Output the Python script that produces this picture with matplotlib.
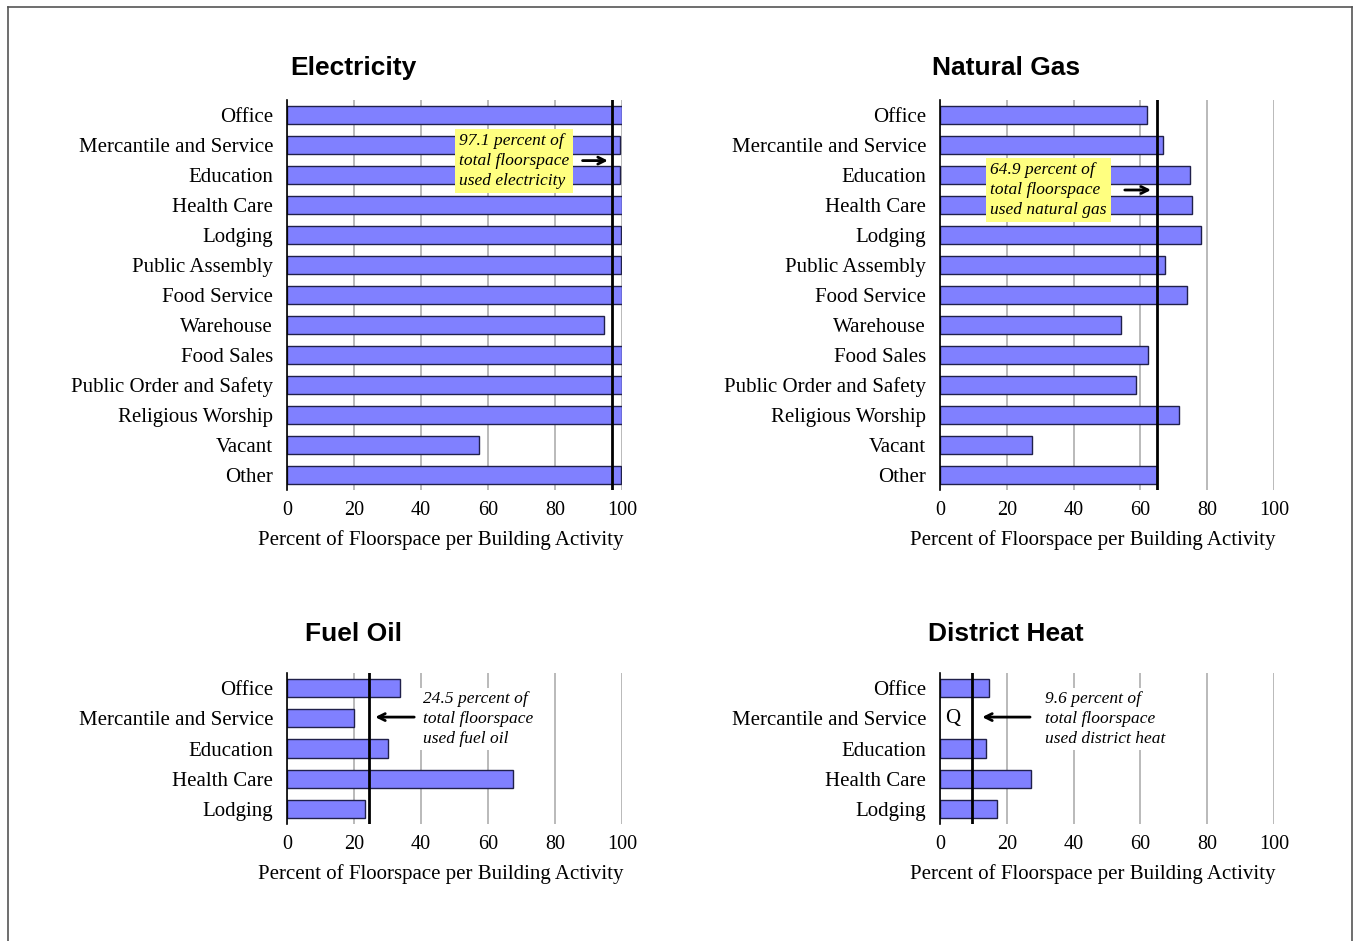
import matplotlib
matplotlib.use("Agg")
import matplotlib.pyplot as plt
from matplotlib.lines import Line2D

# building activities
cats_full = ["Office", "Mercantile and Service", "Education", "Health Care",
             "Lodging", "Public Assembly", "Food Service", "Warehouse",
             "Food Sales", "Public Order and Safety", "Religious Worship",
             "Vacant", "Other"]
cats_short = cats_full[:5]

# percent of floorspace per activity
electricity = [100, 99.4, 99.5, 100, 99.6, 99.6, 100, 94.5, 100, 100, 100, 57.2, 99.8]
natural_gas = [62.1, 66.9, 74.9, 75.4, 78.2, 67.5, 74.0, 54.2, 62.4, 58.7, 71.6, 27.5, 65.0]
fuel_oil = [33.8, 20.0, 30.2, 67.6, 23.4]
district_heat = [14.6, None, 13.9, 27.3, 17.0]   # None -> "Q" (withheld)

totals = {"Electricity": 97.1, "Natural Gas": 64.9, "Fuel Oil": 24.5, "District Heat": 9.6}
notes = {"Electricity": "97.1 percent of\ntotal floorspace\nused electricity",
         "Natural Gas": "64.9 percent of\ntotal floorspace\nused natural gas",
         "Fuel Oil": "24.5 percent of\ntotal floorspace\nused fuel oil",
         "District Heat": "9.6 percent of\ntotal floorspace\nused district heat"}

W, H = 1353, 941
fig = plt.figure(figsize=(W / 100, H / 100), dpi=100)
serif = ["Liberation Serif", "DejaVu Serif"]
sans = ["Liberation Sans", "DejaVu Sans"]


def px_axes(x0, x1, y0, y1):
    return fig.add_axes([x0 / W, 1 - y1 / H, (x1 - x0) / W, (y1 - y0) / H])


def draw(ax, name, cats, vals):
    ys = range(len(cats))
    for y, v in zip(ys, vals):
        if v is None:
            ax.text(1.5, y, "Q", fontsize=15, family=serif, va="center", ha="left")
            continue
        ax.barh(y, v, height=0.6, color="#8080ff", edgecolor="#20204a", linewidth=1, zorder=2)
    ax.set_xlim(0, 100)
    ax.set_ylim(len(cats) - 0.5, -0.5)
    ax.set_yticks(list(ys))
    ax.set_yticklabels(cats, fontsize=15, family=serif)
    ax.set_xticks([0, 20, 40, 60, 80, 100])
    ax.set_xticklabels(["0", "20", "40", "60", "80", "100"], fontsize=14.5, family=serif)
    ax.tick_params(length=0, axis="x", pad=8)
    ax.tick_params(length=0, axis="y", pad=10)
    # label sits a little left of centre in the original
    ax.set_xlabel("Percent of Floorspace per Building Activity", fontsize=15,
                  family=serif, labelpad=7, x=0.458, ha="center")
    ax.grid(axis="x", color="#b4b4b4", linewidth=1.3, zorder=0)
    ax.set_axisbelow(True)
    for s in ["top", "right", "bottom"]:
        ax.spines[s].set_visible(False)
    ax.spines["left"].set_linewidth(1.2)
    ax.axvline(totals[name], color="black", linewidth=2, zorder=4)


ax1 = px_axes(287, 622, 100, 490)
draw(ax1, "Electricity", cats_full, electricity)
ax2 = px_axes(940, 1274, 100, 490)
draw(ax2, "Natural Gas", cats_full, natural_gas)
ax3 = px_axes(287, 622, 673, 824)
draw(ax3, "Fuel Oil", cats_short, fuel_oil)
ax4 = px_axes(940, 1274, 673, 824)
draw(ax4, "District Heat", cats_short, district_heat)

yellow = dict(boxstyle="square,pad=0.25", facecolor="#ffff80", edgecolor="none")
white = dict(boxstyle="square,pad=0.2", facecolor="white", edgecolor="none")
arrow = dict(arrowstyle="->,head_length=0.5,head_width=0.25", color="black", lw=2)
ls = 1.3

ax1.text(51.3, 1.53, notes["Electricity"], fontsize=12.5, family=serif, style="italic",
         va="center", ha="left", bbox=yellow, zorder=5, linespacing=ls)
ax1.annotate("", xy=(96.6, 1.52), xytext=(87.4, 1.52), arrowprops=arrow, zorder=6)

ax2.text(15.0, 2.5, notes["Natural Gas"], fontsize=12.5, family=serif, style="italic",
         va="center", ha="left", bbox=yellow, zorder=5, linespacing=ls)
ax2.annotate("", xy=(64.0, 2.5), xytext=(54.5, 2.5), arrowprops=arrow, zorder=6)

ax3.text(40.6, 1.02, notes["Fuel Oil"], fontsize=12.5, family=serif, style="italic",
         va="center", ha="left", bbox=white, zorder=5, linespacing=ls)
ax3.annotate("", xy=(25.5, 0.96), xytext=(38.8, 0.96), arrowprops=arrow, zorder=6)

ax4.text(31.4, 1.02, notes["District Heat"], fontsize=12.5, family=serif, style="italic",
         va="center", ha="left", bbox=white, zorder=5, linespacing=ls)
ax4.annotate("", xy=(11.8, 0.96), xytext=(27.8, 0.96), arrowprops=arrow, zorder=6)

for name, (cx, cy) in {"Electricity": (353, 68), "Natural Gas": (1006, 68),
                       "Fuel Oil": (353, 634), "District Heat": (1006, 634)}.items():
    fig.text(cx / W, 1 - cy / H, name, fontsize=19, fontweight="bold", family=sans,
             ha="center", va="center")

# thin frame around the figure (no bottom edge)
frame = dict(color="#555555", linewidth=1.2, transform=fig.transFigure)
fig.add_artist(Line2D([8 / W, 8 / W], [0, 1 - 7 / H], **frame))
fig.add_artist(Line2D([8 / W, 1352 / W], [1 - 7 / H, 1 - 7 / H], **frame))
fig.add_artist(Line2D([1352 / W, 1352 / W], [0, 1 - 7 / H], **frame))

fig.savefig("out.png", dpi=100)
